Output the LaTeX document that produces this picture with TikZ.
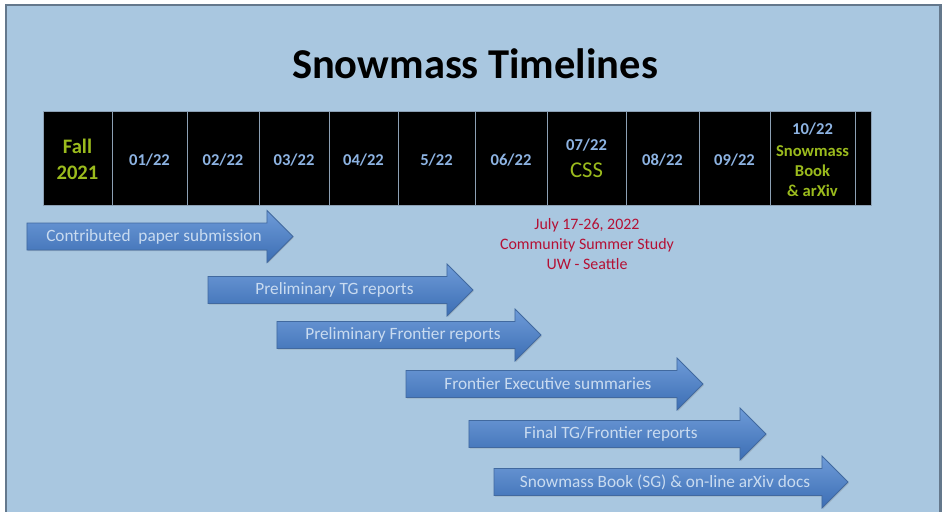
\documentclass[tikz,border=0pt]{standalone}
\usepackage{fontspec}
\setmainfont{Carlito}
\usetikzlibrary{shadows}
\definecolor{ca9c7e0}{RGB}{169,199,224}
\definecolor{c64788c}{RGB}{100,120,140}
\definecolor{c7f93a8}{RGB}{140,160,180}
\definecolor{c9bbb1d}{RGB}{155,187,29}
\definecolor{c8db3e2}{RGB}{141,179,226}
\definecolor{cbe1432}{RGB}{180,16,52}
\definecolor{c6e9bd8}{RGB}{110,155,216}
\definecolor{c3c6eb4}{RGB}{60,110,180}
\definecolor{c41699f}{RGB}{65,105,159}
\definecolor{cc9dbf0}{RGB}{201,219,240}
\def \globalscale {1.000000}

\begin{document}
\begin{tikzpicture}[y=1cm, x=1cm, yscale=\globalscale,xscale=\globalscale, every node/.append style={scale=\globalscale}, inner sep=0pt, outer sep=0pt,
  cell/.style={draw=c7f93a8,fill=black,line width=0.6pt},
  month/.style={text=c8db3e2,font=\fontsize{12.5}{15}\selectfont\bfseries},
  greenlbl/.style={text=c9bbb1d,align=center},
  blockarrow/.style={draw=c41699f,line width=0.6pt,top color=c6e9bd8,bottom color=c3c6eb4,drop shadow={opacity=0.3,shadow xshift=0.6pt,shadow yshift=-0.9pt}},
  arrowtext/.style={text=cc9dbf0,font=\fontsize{13}{15}\selectfont}]
  \useasboundingbox (0.0, 0.0) rectangle (24.974, 13.519);
  \path[fill=white] (0.0, 0.0) rectangle (24.974, 13.519);
  \path[draw=c64788c,fill=ca9c7e0,line width=1.8pt] (0.159, -0.3) rectangle (24.881, 13.386);


  \node[font=\fontsize{32}{38}\selectfont\bfseries] (title) at (12.566, 11.825){Snowmass Timelines};


  % month cells
  \path[cell] (1.138, 10.582) rectangle (2.963, 8.095);
  \path[cell] (2.963, 10.582) rectangle (4.947, 8.095);
  \path[cell] (4.947, 10.582) rectangle (6.852, 8.095);
  \path[cell] (6.852, 10.582) rectangle (8.704, 8.095);
  \path[cell] (8.704, 10.582) rectangle (10.529, 8.095);
  \path[cell] (10.529, 10.582) rectangle (12.566, 8.095);
  \path[cell] (12.566, 10.582) rectangle (14.471, 8.095);
  \path[cell] (14.471, 10.582) rectangle (16.561, 8.095);
  \path[cell] (16.561, 10.582) rectangle (18.492, 8.095);
  \path[cell] (18.492, 10.582) rectangle (20.37, 8.095);
  \path[cell] (20.37, 10.582) rectangle (22.619, 8.095);
  \path[cell] (22.619, 10.582) rectangle (23.042, 8.095);


  \node[greenlbl,font=\fontsize{15.5}{19.5}\selectfont\bfseries] (fall) at (2.05, 9.3){Fall\\2021};
  \node[month] (jan) at (3.955, 9.286){01/22};
  \node[month] (feb) at (5.899, 9.286){02/22};
  \node[month] (mar) at (7.778, 9.286){03/22};
  \node[month] (apr) at (9.616, 9.286){04/22};
  \node[month] (may) at (11.548, 9.286){5/22};
  \node[month] (jun) at (13.519, 9.286){06/22};
  \node[month] (jul) at (15.516, 9.683){07/22};
  \node[greenlbl,font=\fontsize{17}{20}\selectfont] (css) at (15.516, 9.021){CSS};
  \node[month] (aug) at (17.526, 9.286){08/22};
  \node[month] (sep) at (19.431, 9.286){09/22};
  \node[month] (oct) at (21.495, 10.106){10/22};
  \node[greenlbl,font=\fontsize{12.5}{15}\selectfont\bfseries] (book) at (21.495, 8.995){Snowmass\\Book\\\& arXiv};


  \node[text=cbe1432,align=center,font=\fontsize{12}{15}\selectfont] (cssinfo) at (15.529, 7.063){July 17-26, 2022\\Community Summer Study\\UW - Seattle};


  % block arrows
  \path[blockarrow] (0.714, 7.619) -- (7.063, 7.619) -- (7.063, 7.95) -- (7.751, 7.262) -- (7.063, 6.574) -- (7.063, 6.905) -- (0.714, 6.905) -- cycle;
  \node[arrowtext] (contrib) at (4.074, 7.262){Contributed\ \ paper submission};


  \path[blockarrow] (5.503, 6.204) -- (11.825, 6.204) -- (11.825, 6.535) -- (12.513, 5.847) -- (11.825, 5.159) -- (11.825, 5.49) -- (5.503, 5.49) -- cycle;
  \node[arrowtext] (prelimtg) at (8.849, 5.847){Preliminary TG reports};


  \path[blockarrow] (7.328, 5.013) -- (13.624, 5.013) -- (13.624, 5.344) -- (14.312, 4.656) -- (13.624, 3.968) -- (13.624, 4.299) -- (7.328, 4.299) -- cycle;
  \node[arrowtext] (prelimfr) at (10.661, 4.656){Preliminary Frontier reports};


  \path[blockarrow] (10.741, 3.717) -- (17.91, 3.717) -- (17.91, 4.048) -- (18.598, 3.36) -- (17.91, 2.672) -- (17.91, 3.003) -- (10.741, 3.003) -- cycle;
  \node[arrowtext] (execsum) at (14.497, 3.36){Frontier Executive summaries};


  \path[blockarrow] (12.407, 2.394) -- (19.577, 2.394) -- (19.577, 2.725) -- (20.265, 2.037) -- (19.577, 1.349) -- (19.577, 1.68) -- (12.407, 1.68) -- cycle;
  \node[arrowtext] (finaltg) at (16.164, 2.037){Final TG/Frontier reports};


  \path[blockarrow] (13.069, 1.124) -- (21.746, 1.124) -- (21.746, 1.455) -- (22.434, 0.767) -- (21.746, 0.079) -- (21.746, 0.41) -- (13.069, 0.41) -- cycle;
  \node[arrowtext] (sgbook) at (17.593, 0.767){Snowmass Book (SG) \& on-line arXiv docs};

\end{tikzpicture}
\end{document}
